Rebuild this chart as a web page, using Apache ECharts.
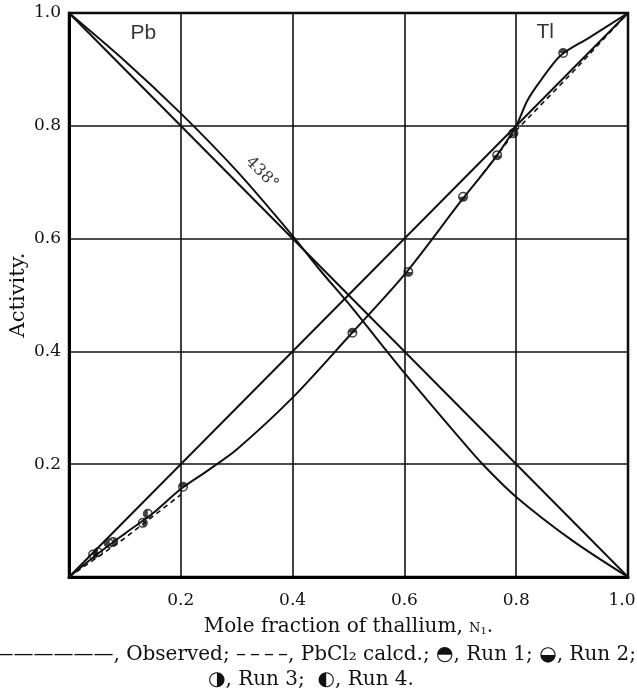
<!DOCTYPE html>
<html>
<head>
<meta charset="utf-8">
<script src="https://cdn.jsdelivr.net/npm/echarts@6/dist/echarts.min.js"></script>
<style>
  html, body { margin: 0; padding: 0; background: #fff; }
  #chart { width: 637px; height: 693px; }
</style>
</head>
<body>
<div id="chart"></div>
<script>
// tick labels
var xTicks = [0.2, 0.4, 0.6, 0.8, 1.0];
var yTicks = [0.2, 0.4, 0.6, 0.8, 1.0];

// Raoult lines (ideal)
var pbIdeal = [[0, 1], [1, 0]];
var tlIdeal = [[0, 0], [1, 1]];

// observed activity of lead
var pbObserved = [
  [0, 1], [0.1, 0.915], [0.2, 0.822], [0.3, 0.72], [0.4, 0.605], [0.45, 0.543],
  [0.5, 0.485], [0.6, 0.362], [0.7, 0.245], [0.74, 0.2], [0.8, 0.142], [0.9, 0.065], [1, 0]
];

// observed activity of thallium
var tlObserved = [
  [0, 0], [0.05, 0.04], [0.1, 0.077], [0.15, 0.113], [0.2, 0.156], [0.25, 0.19],
  [0.3, 0.226], [0.4, 0.318], [0.5, 0.426], [0.6, 0.536], [0.7, 0.665], [0.76, 0.74],
  [0.8, 0.8], [0.82, 0.845], [0.845, 0.882], [0.88, 0.925], [0.93, 0.956], [1, 1]
];

// PbCl2 calculated (dashed)
var tlCalcd = [
  [0, 0], [0.1, 0.069], [0.2, 0.146], null,
  [0.74, 0.715], [0.8, 0.792], [0.9, 0.894], [1, 1]
];

// measured points
var run1 = [[0.204, 0.16], [0.507, 0.433], [0.884, 0.929]];
var run2 = [[0.607, 0.541], [0.705, 0.674], [0.766, 0.748]];
var run3 = [[0.043, 0.04], [0.079, 0.062], [0.132, 0.096], [0.795, 0.787]];
var run4 = [[0.052, 0.044], [0.071, 0.06], [0.141, 0.112]];

// text labels inside the plot
var notes = [
  { value: [0.133, 0.965], text: 'Pb', font: 'Liberation Sans', size: 21, rotate: 0 },
  { value: [0.852, 0.966], text: 'Tl', font: 'Liberation Sans', size: 21, rotate: 0 },
  { value: [0.345, 0.716], text: '438°', font: 'DejaVu Serif', size: 16, rotate: -45 }
];

var ring = 'M0,10A10,10 0 1 1 20,10A10,10 0 1 1 0,10Z' +
  'M3,10A7,7 0 1 0 17,10A7,7 0 1 0 3,10Z';
var halves = {
  top: 'M3,10A7,7 0 0 1 17,10Z',
  bottom: 'M3,10A7,7 0 0 0 17,10Z',
  right: 'M10,3A7,7 0 0 1 10,17Z',
  left: 'M10,3A7,7 0 0 0 10,17Z'
};

var serif = 'DejaVu Serif';
var ink = '#111';

function curve(data, opts) {
  return Object.assign({
    type: 'line',
    data: data,
    showSymbol: false,
    symbol: 'none',
    silent: true,
    lineStyle: { color: ink, width: 2 },
    z: 3
  }, opts || {});
}

function runSeries(data, half) {
  return {
    type: 'scatter',
    data: data,
    symbol: 'path://' + ring + halves[half],
    symbolSize: 10,
    itemStyle: { color: ink },
    z: 5
  };
}

var chart = echarts.init(document.getElementById('chart'));
chart.setOption({
  animation: false,
  backgroundColor: '#fff',
  grid: {
    left: 69, right: 9, top: 13, bottom: 116,
    outerBoundsMode: 'none',
    containLabel: false,
    show: true, borderColor: '#000', borderWidth: 2.5
  },
  xAxis: {
    type: 'value', min: 0, max: 1, interval: 0.2,
    name: 'Mole fraction of thallium, {sc|N}{sub|1}.',
    nameLocation: 'middle', nameGap: 40,
    nameTextStyle: {
      fontFamily: serif, fontSize: 20, color: ink,
      rich: {
        sc: { fontFamily: serif, fontSize: 13, color: ink, padding: [4, 0, 0, 0] },
        sub: { fontFamily: serif, fontSize: 10, color: ink, padding: [9, 0, 0, 0] }
      }
    },
    axisLine: { show: true, lineStyle: { color: '#000', width: 3 } },
    axisTick: { show: false },
    splitLine: { show: true, lineStyle: { color: ink, width: 1.6 } },
    axisLabel: {
      margin: 15, fontFamily: serif, fontSize: 17, color: ink,
      formatter: function (v) {
        var s = v.toFixed(1);
        if (xTicks.indexOf(+s) < 0) return '';
        return v >= 1 ? '{end|' + s + '}' : s;
      },
      rich: {
        end: { fontFamily: serif, fontSize: 17, color: ink, padding: [0, 12, 0, 0] }
      }
    }
  },
  yAxis: {
    type: 'value', min: 0, max: 1, interval: 0.2,
    name: 'Activity.',
    nameLocation: 'middle', nameGap: 40, nameRotate: 90,
    nameMoveOverlap: false,
    nameTextStyle: { fontFamily: serif, fontSize: 21, color: ink },
    axisLine: { show: true, lineStyle: { color: '#000', width: 3 } },
    axisTick: { show: false },
    splitLine: { show: true, lineStyle: { color: ink, width: 1.6 } },
    axisLabel: {
      margin: 8, fontFamily: serif, fontSize: 17, color: ink,
      formatter: function (v) { return yTicks.indexOf(+v.toFixed(1)) >= 0 ? v.toFixed(1) : ''; }
    }
  },
  series: [
    curve(pbIdeal),
    curve(tlIdeal),
    curve(pbObserved, { smooth: 0.3 }),
    curve(tlObserved, { smooth: 0.3 }),
    curve(tlCalcd, { connectNulls: false, lineStyle: { color: ink, width: 1.6, type: [5, 4] } }),
    runSeries(run1, 'top'),
    runSeries(run2, 'bottom'),
    runSeries(run3, 'right'),
    runSeries(run4, 'left'),
    {
      type: 'scatter',
      symbolSize: 0,
      silent: true,
      data: notes.map(function (n) {
        return {
          value: n.value,
          label: {
            show: true, position: 'inside', formatter: n.text, rotate: n.rotate,
            fontFamily: n.font, fontSize: n.size, color: '#000'
          }
        };
      }),
      z: 6
    }
  ],
  graphic: [
    {
      type: 'text', right: 1, top: 645,
      style: {
        text: '\u2014\u2014\u2014\u2014\u2014\u2014, Observed; \u2013\u2009\u2013\u2009\u2013\u2009\u2013, PbCl\u2082 calcd.; \u25D3, Run 1; \u25D2, Run 2;',
        fontFamily: serif, fontSize: 20, fill: ink
      }
    },
    {
      type: 'text', left: 208, top: 670,
      style: {
        text: '\u25D1, Run 3;  \u25D0, Run 4.',
        fontFamily: serif, fontSize: 20, fill: ink
      }
    }
  ]
});
</script>
</body>
</html>
